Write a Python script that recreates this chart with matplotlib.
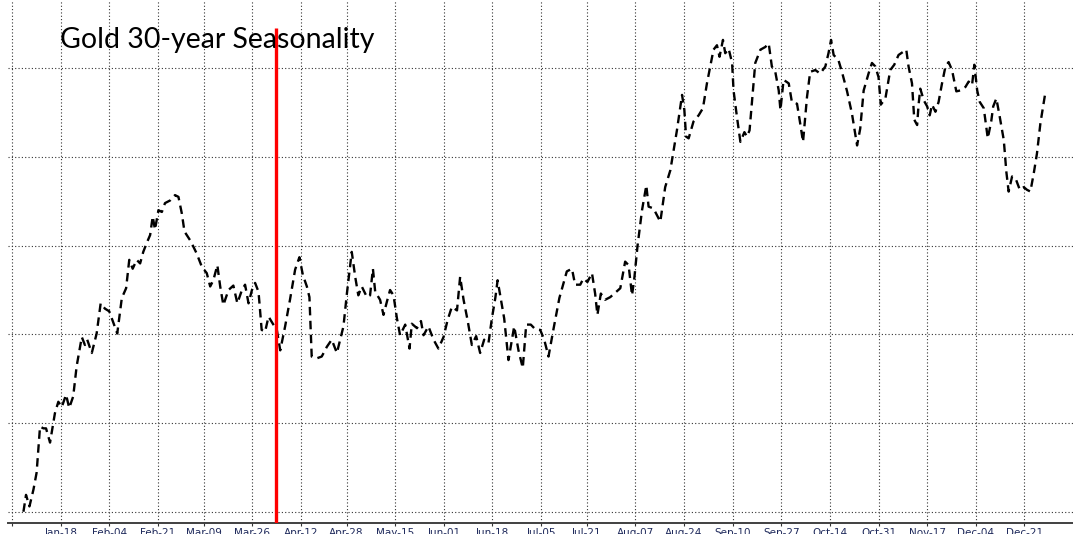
import datetime as dt
import matplotlib
matplotlib.use("Agg")
import matplotlib.pyplot as plt

# ---- data (day of year, seasonal value; horizontal gridlines at 0..5) ----
days = [
    4.0, 4.9, 6.1, 7.5, 8.6, 9.8, 11.0, 11.9, 13.3, 15.0,
    16.2, 17.4, 18.9, 20.0, 21.4, 22.6, 24.4, 25.5, 26.3, 27.9,
    29.6, 31.0, 32.5, 34.0, 36.8, 38.4, 39.9, 41.0, 42.2, 43.6,
    44.8, 45.9, 47.1, 48.3, 49.2, 50.0, 51.2, 52.4, 53.5, 55.3,
    57.0, 58.2, 59.4, 60.3, 62.3, 63.4, 64.6, 66.4, 68.1, 69.3,
    70.4, 71.8, 72.8, 73.9, 75.7, 77.4, 78.8, 80.4, 81.5, 82.7,
    83.9, 85.0, 86.2, 87.3, 88.5, 89.7, 91.2, 92.6, 93.8, 95.5,
    97.2, 99.0, 100.5, 101.7, 103.1, 104.0, 104.8, 106.6, 108.3, 110.1,
    111.8, 113.6, 115.9, 117.1, 118.8, 120.0, 121.1, 122.3, 124.1, 125.2,
    126.2, 127.0, 128.7, 129.9, 131.1, 132.2, 133.4, 134.6, 135.7, 137.5,
    139.0, 139.8, 141.6, 143.0, 143.9, 145.6, 147.4, 149.1, 150.9, 152.3,
    153.8, 155.6, 156.7, 157.9, 159.3, 160.8, 162.3, 163.7, 165.1, 166.6,
    167.8, 169.0, 169.8, 170.7, 172.1, 173.6, 175.6, 177.1, 178.6, 179.8,
    181.4, 182.9, 184.7, 186.1, 187.6, 189.4, 191.4,
    194.0, 195.8, 196.9, 198.7, 199.8, 201.2, 202.8, 203.9, 204.7, 205.9, 207.4, 209.2, 212.7,
    214.4, 215.6, 216.8, 217.6, 218.7, 220.3, 221.8, 222.6, 224.3, 226.7,
    228.4, 230.2, 232.5, 234.3, 235.1, 235.7, 236.6, 238.3, 240.1, 241.6,
    243.0, 245.3, 246.5, 247.4, 248.6, 249.4, 250.6, 251.8, 252.3, 253.5,
    254.7, 256.1, 257.0, 257.9, 258.7, 259.9, 261.7, 263.4, 264.6, 265.7,
    266.9, 268.1, 268.7, 269.8, 271.6, 272.7, 274.5, 275.6, 276.6, 278.0,
    279.1, 280.9, 282.6, 284.4, 285.5, 286.4, 287.3, 289.0, 290.2, 292.0,
    293.7, 295.5, 296.6, 297.8, 299.5, 300.7, 301.9, 303.0, 303.8, 305.4,
    307.1, 308.5, 310.0, 311.8, 312.7, 313.5, 314.7, 315.5, 316.5, 317.0,
    317.6, 318.8, 320.0, 320.9, 321.7, 322.9, 324.0, 325.2, 326.4, 327.5,
    328.7, 330.2, 331.6, 333.4, 334.5, 335.7, 336.5, 337.5, 338.4, 339.8,
    341.2, 342.4, 343.1, 344.2, 345.4, 346.8, 347.7, 348.5, 349.7, 350.9,
    352.4, 353.8, 354.9, 356.1, 357.3, 358.4, 359.6, 361.3,
]

values = [
    0.00, 0.19, 0.06, 0.25, 0.44, 0.96, 0.94, 0.94, 0.78, 1.11,
    1.24, 1.18, 1.32, 1.17, 1.30, 1.64, 1.97, 1.88, 1.94, 1.79,
    2.01, 2.35, 2.29, 2.26, 2.01, 2.41, 2.52, 2.84, 2.74, 2.84,
    2.80, 2.93, 3.03, 3.12, 3.33, 3.18, 3.40, 3.38, 3.48, 3.51,
    3.57, 3.55, 3.36, 3.16, 3.06, 2.99, 2.91, 2.76, 2.69, 2.54,
    2.61, 2.78, 2.54, 2.33, 2.50, 2.55, 2.35, 2.50, 2.56, 2.35,
    2.50, 2.58, 2.48, 2.05, 2.03, 2.20, 2.12, 2.05, 1.82, 2.09,
    2.39, 2.73, 2.87, 2.67, 2.54, 2.42, 1.75, 1.73, 1.75, 1.86,
    1.94, 1.79, 2.09, 2.46, 2.93, 2.65, 2.44, 2.54, 2.42, 2.44,
    2.74, 2.48, 2.39, 2.22, 2.37, 2.50, 2.44, 2.18, 1.99, 2.11,
    1.84, 2.12, 2.07, 2.15, 1.99, 2.09, 1.94, 1.84, 1.97, 2.16,
    2.31, 2.27, 2.65, 2.39, 2.16, 1.88, 1.98, 1.79, 1.94, 1.90,
    2.18, 2.41, 2.61, 2.44, 2.18, 1.71, 2.09, 1.82, 1.62, 2.11,
    2.11, 2.06, 2.05, 1.94, 1.75, 2.07, 2.41,
    2.71, 2.74, 2.56, 2.56, 2.63, 2.59, 2.69, 2.46, 2.22, 2.46, 2.39, 2.42, 2.52,
    2.82, 2.78, 2.44, 2.63, 2.99, 3.40, 3.68, 3.44, 3.42, 3.27,
    3.66, 3.85, 4.30, 4.70, 4.53, 4.23, 4.21, 4.40, 4.47, 4.55,
    4.83, 5.21, 5.26, 5.13, 5.32, 5.17, 5.22, 5.06, 4.75, 4.45,
    4.17, 4.28, 4.23, 4.30, 4.60, 5.06, 5.21, 5.24, 5.28, 5.02,
    4.96, 4.75, 4.53, 4.87, 4.83, 4.62, 4.60, 4.38, 4.17, 4.68,
    4.96, 4.98, 4.94, 5.02, 5.17, 5.32, 5.15, 5.09, 4.96, 4.74,
    4.49, 4.13, 4.32, 4.75, 4.94, 5.06, 5.02, 4.90, 4.59, 4.66,
    4.98, 5.04, 5.15, 5.19, 5.21, 5.02, 4.83, 4.42, 4.36, 4.59,
    4.77, 4.64, 4.57, 4.47, 4.59, 4.51, 4.62, 4.83, 5.02, 5.07,
    4.98, 4.74, 4.75, 4.79, 4.85, 4.81, 5.04, 4.75, 4.62, 4.55,
    4.21, 4.40, 4.57, 4.66, 4.45, 4.19, 3.83, 3.61, 3.78, 3.76,
    3.63, 3.66, 3.63, 3.61, 3.82, 4.04, 4.38, 4.72,
]

tick_labels = ["Jan-01", "Jan-18", "Feb-04", "Feb-21", "Mar-09", "Mar-26", "Apr-12",
               "Apr-28", "May-15", "Jun-01", "Jun-18", "Jul-05", "Jul-21", "Aug-07",
               "Aug-24", "Sep-10", "Sep-27", "Oct-14", "Oct-31", "Nov-17", "Dec-04",
               "Dec-21"]
grid_levels = [0, 1, 2, 3, 4, 5]
marker_day = 92.3        # red vertical marker (early April)
marker_top = 5.45
title = "Gold 30-year Seasonality"

assert len(days) == len(values)

base = dt.date(2023, 1, 1)
tick_pos = [(dt.datetime.strptime(s + "-2023", "%b-%d-%Y").date() - base).days
            for s in tick_labels]
shown_labels = [""] + tick_labels[1:]

fig = plt.figure(figsize=(10.73, 5.34), dpi=100)
ax = fig.add_axes([8 / 1073, 11 / 534, 1 - 8 / 1073, 1 - 11 / 534])

ax.plot(days, values, color="black", lw=1.7, linestyle=(0, (3.6, 2.3)),
        zorder=3)
ax.vlines(marker_day, -0.2, marker_top, color="#ff0000", lw=2.4, zorder=4)

ax.set_xlim(-1.4, 371)
ax.set_ylim(-0.127, 5.77)
ax.set_xticks(tick_pos)
ax.set_xticklabels(shown_labels, fontsize=7.5, color="#1f2a5c")
ax.set_yticks(grid_levels)
ax.set_yticklabels([])
ax.tick_params(axis="y", length=0)
ax.tick_params(axis="x", length=2.5, width=0.8, color="#333333", pad=1.0)
ax.grid(True, color="#333333", linestyle=(0, (1, 2)), lw=0.8)
ax.set_axisbelow(True)

for s in ["left", "right", "top"]:
    ax.spines[s].set_visible(False)
ax.spines["bottom"].set_color("#404040")
ax.spines["bottom"].set_linewidth(1.4)

fig.text(60 / 1073, 1 - 48.5 / 534, title, fontsize=20.5, family="Lato",
         va="baseline", ha="left", color="black", zorder=5)

fig.savefig("out.png", dpi=100)
